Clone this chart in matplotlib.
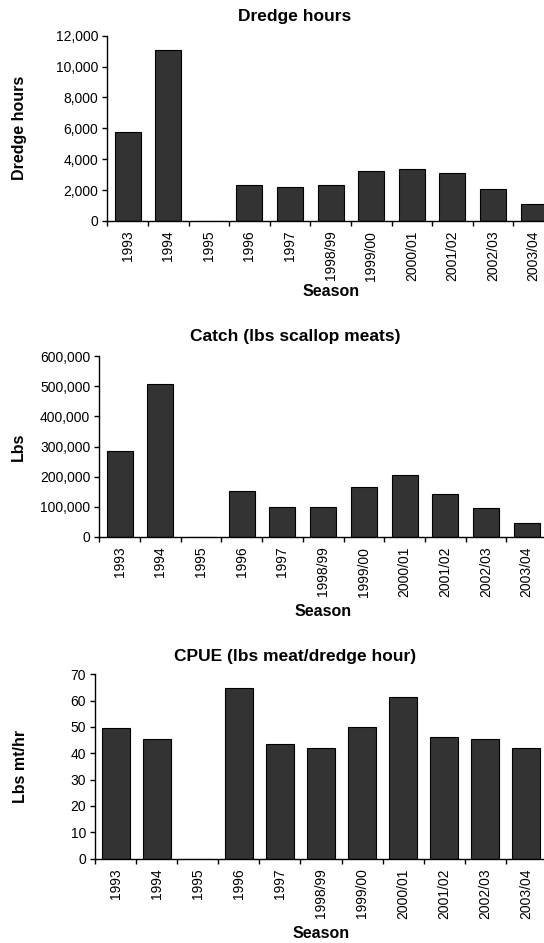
import matplotlib.pyplot as plt
import matplotlib.ticker as mticker
import numpy as np

plt.rcParams['font.family'] = ['Liberation Sans', 'DejaVu Sans']

seasons = ['1993', '1994', '1995', '1996', '1997', '1998/99', '1999/00',
           '2000/01', '2001/02', '2002/03', '2003/04']
dredge_hours = [5740, 11100, 0, 2320, 2210, 2310, 3260, 3350, 3090, 2040, 1070]
catch_lbs = [284000, 506000, 0, 152000, 98000, 98000, 165000, 205000, 143000, 95000, 47000]
cpue = [49.6, 45.5, 0, 64.8, 43.4, 42.0, 50.1, 61.3, 46.0, 45.5, 42.0]

W, H = 544, 943
fig = plt.figure(figsize=(W / 100, H / 100), dpi=100)

panels = [
    # data, title, ylabel, ymax, ystep, comma, [left, top, bottom, right] px, bar width, title y, season y, ylabel x
    (dredge_hours, 'Dredge hours', 'Dredge hours', 12000, 2000, True,
     [107.3, 35.7, 221, 554], 0.64, 16.7, 292, 20),
    (catch_lbs, 'Catch (lbs scallop meats)', 'Lbs', 600000, 100000, True,
     [99.3, 356, 537, 547], 0.64, 336, 612, 18),
    (cpue, 'CPUE (lbs meat/dredge hour)', 'Lbs mt/hr', 70, 10, False,
     [95, 674.3, 858.5, 547], 0.68, 656.5, 934, 21),
]

x = np.arange(len(seasons))
for vals, title, ylab, ymax, ystep, comma, box, bw, ty, sy, ylx in panels:
    l, t, b, r = box
    ax = fig.add_axes([l / W, 1 - b / H, (r - l) / W, (b - t) / H])
    ax.bar(x, vals, width=bw, color='#333333', edgecolor='black', linewidth=0.8)
    ax.set_xlim(-0.5, len(seasons) - 0.5)
    ax.set_ylim(0, ymax)
    ax.set_yticks(np.arange(0, ymax + ystep / 2, ystep))
    if comma:
        ax.yaxis.set_major_formatter(mticker.FuncFormatter(lambda v, p: f'{int(v):,}'))
    ax.set_xticks(np.arange(-0.5, len(seasons)), labels=[])
    ax.set_xticks(x, labels=seasons, minor=True, rotation=90, fontsize=10)
    ax.tick_params(axis='x', which='major', length=3.5, width=1, direction='out')
    ax.tick_params(axis='x', which='minor', length=0, pad=7)
    ax.tick_params(axis='y', length=3.5, width=1, direction='out', labelsize=10, pad=3)
    for side in ['top', 'right']:
        ax.spines[side].set_visible(False)
    for side in ['left', 'bottom']:
        ax.spines[side].set_linewidth(1)
    ax.set_ylabel(ylab, fontsize=11.5, fontweight='bold')
    ax.yaxis.set_label_coords(-(l - ylx) / (r - l), 0.5)
    ax.yaxis.label.set_va('center')
    ax.set_xlabel('Season', fontsize=11.5, fontweight='bold')
    ax.xaxis.set_label_coords(0.5, -(sy - b) / (b - t))
    ax.xaxis.label.set_va('center')
    fig.text(295 / W, 1 - ty / H, title, ha='center', va='center',
             fontsize=12.5, fontweight='bold')

plt.savefig('out.png', dpi=100)
